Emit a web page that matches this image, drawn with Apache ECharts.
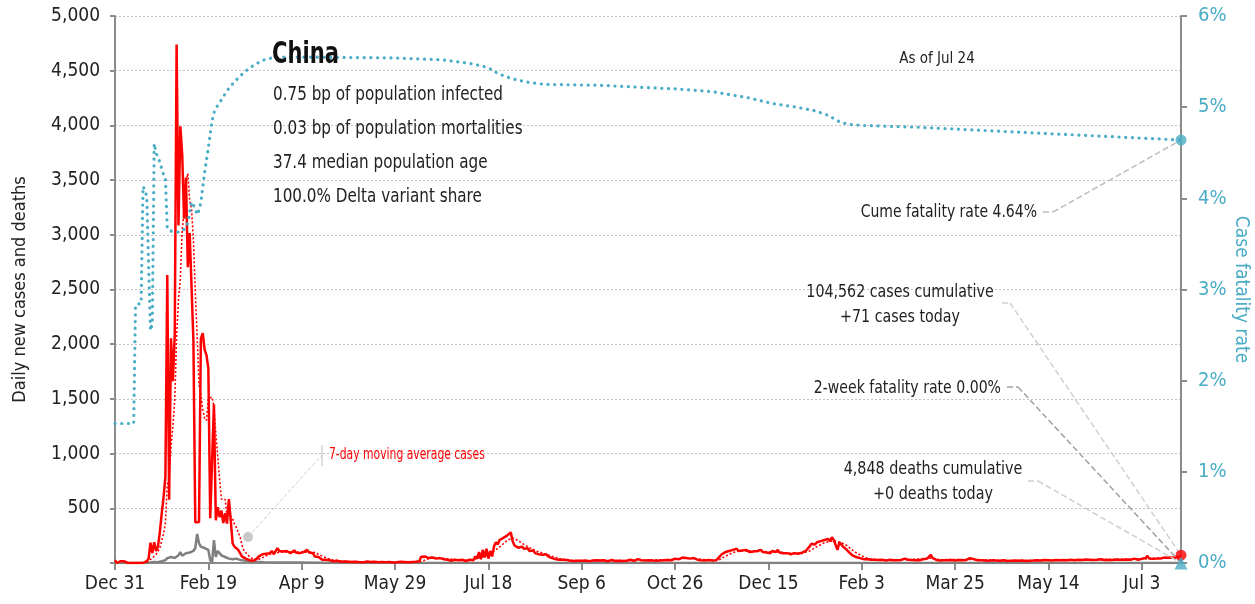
<!DOCTYPE html>
<html><head><meta charset="utf-8">
<script src="https://cdn.jsdelivr.net/npm/echarts@6/dist/echarts.min.js"></script>
<style>html,body{margin:0;padding:0;background:#fff}#c{width:1255px;height:604px}</style>
</head><body><div id="c"></div>
<script>
// ---------- DATA ----------
const START_DATE = [2019, 11, 31]; // Dec 31, 2019 (UTC y, m0, d)
const COUNTRY = 'China';
const STATS = ['0.75 bp of population infected', '0.03 bp of population mortalities', '37.4 median population age', '100.0% Delta variant share'];
const AS_OF = 'As of Jul 24';
const TOTAL_CASES = 104562, CASES_TODAY = 71, TOTAL_DEATHS = 4848, DEATHS_TODAY = 0;
const CUME_CFR = 4.64, TWO_WEEK_CFR = 0.00;

// daily new cases, one value per day from Dec 31 2019
const cases = [
27,0,0,17,0,15,0,0,0,0,
0,1,0,0,0,0,4,17,40,186,
90,190,110,150,280,450,600,790,2632,578,
2054,1661,2089,4739,3086,3991,3733,3147,3523,2704,
3015,2525,2032,373,375,375,2050,2100,1950,1900,
1780,410,420,1450,390,510,420,480,365,455,
360,585,390,180,150,165,120,90,60,45,
40,30,25,20,20,30,40,60,75,80,
95,85,100,90,110,80,95,135,110,100,
105,95,110,100,90,105,115,95,85,90,
80,100,110,120,95,85,90,60,50,55,
40,30,25,30,20,25,20,15,18,20,
15,12,18,14,10,12,15,10,8,12,
10,8,12,6,10,14,8,10,6,12,
10,8,6,10,12,8,6,10,8,5,
10,6,8,12,7,10,8,6,12,10,
8,12,10,15,58,55,60,50,45,40,
50,35,40,30,45,55,35,25,30,45,
20,25,30,20,25,15,30,20,18,25,
30,45,25,60,40,100,35,120,50,130,
40,110,60,150,190,170,210,195,230,220,
250,240,280,200,160,150,140,135,150,130,
120,135,110,100,115,90,95,80,85,75,
70,80,60,50,45,40,35,40,30,28,
30,25,28,22,20,25,18,22,20,25,
20,18,22,25,15,20,22,18,25,20,
22,18,25,20,15,22,28,20,18,25,
20,25,18,22,20,25,30,22,20,25,
35,40,25,20,22,18,25,20,22,28,
20,25,22,30,25,20,28,35,25,30,
40,50,35,45,50,40,45,35,40,50,
45,35,30,28,25,30,22,25,28,20,
22,20,25,30,60,80,90,100,95,110,
100,120,105,130,110,100,115,105,120,110,
100,115,105,95,110,100,120,100,105,95,
100,90,110,95,100,120,95,100,90,85,
90,85,80,85,90,80,85,90,95,100,
110,130,150,175,185,170,190,180,200,185,
210,195,220,200,235,210,200,120,190,170,
150,140,120,100,85,70,60,55,50,45,
40,35,30,35,28,30,25,30,22,28,
25,30,28,22,25,30,28,25,22,25,
30,28,35,40,50,30,25,28,22,25,
28,25,30,35,28,40,55,75,45,30,
28,25,22,28,25,20,25,22,28,25,
22,25,28,30,25,22,28,35,45,50,
35,28,25,22,25,28,22,25,20,22,
25,20,22,25,20,22,25,20,18,22,
20,25,22,18,20,25,22,20,18,22,
20,25,22,28,25,20,22,25,28,22,
25,30,22,25,28,30,25,22,28,30,
25,28,30,32,25,28,30,35,28,30,
32,28,30,25,28,32,30,28,35,30,
28,32,30,35,28,30,32,28,30,35,
30,35,32,28,30,35,40,32,30,35,
38,35,45,65,40,35,38,42,40,45,
40,45,50,42,48,45,50,55,48,52,
60,71
];

// 7-day moving average of cases: [day index, value]
const casesMA = [
[17,5],[20,45],[22,80],[24,135],[26,267],[27,367],[28,716],[29,783],[30,1055],[31,1252],[32,1486],[33,2078],[34,2406],[35,2600],[36,3050],[37,3207],[38,3473],[39,3560],[40,3314],[41,3234],[42,2954],[43,2474],[44,2078],[45,1628],[46,1535],[47,1404],[48,1322],[49,1303],[50,1504],[51,1509],[52,1516],[53,1430],[54,1186],[55,980],[56,769],[57,583],[58,576],[59,581],[60,426],[61,454],[62,436],[63,402],[64,355],[65,326],[66,279],[67,240],[68,165],[69,116],[70,96],[72,59],[74,34],[76,28],[78,40],[80,58],[83,80],[86,92],[90,102],[95,100],[100,98],[104,102],[107,95],[110,70],[113,48],[116,30],[120,20],[125,14],[135,10],[150,9],[163,10],[165,20],[167,35],[170,52],[175,43],[180,36],[185,24],[190,25],[193,38],[197,58],[201,80],[204,120],[207,160],[210,205],[213,230],[216,205],[219,170],[222,140],[226,108],[230,85],[234,62],[238,40],[242,27],[250,21],[280,24],[285,27],[300,32],[304,42],[309,44],[314,34],[320,24],[324,32],[327,62],[331,95],[335,112],[345,106],[355,100],[362,88],[368,88],[372,110],[376,150],[380,185],[385,205],[389,185],[392,160],[396,105],[400,65],[404,38],[410,28],[425,30],[437,45],[442,30],[460,32],[480,21],[520,29],[550,36],[560,45],[571,52]
];

// daily new deaths: [day index, value]
const deaths = [
[0,0],[17,0],[18,3],[19,5],[20,8],[21,10],[22,17],[23,8],[24,15],[25,16],[26,24],[27,26],[28,45],[29,30],[30,55],[31,43],[32,46],[33,45],[34,70],[35,100],[36,66],[37,75],[38,90],[39,85],[40,95],[41,105],[42,110],[43,137],[44,265],[45,180],[46,150],[47,140],[48,137],[49,125],[50,120],[51,25],[52,5],[53,210],[54,55],[55,110],[56,90],[57,70],[58,60],[59,55],[60,45],[61,40],[62,45],[63,35],[64,38],[65,40],[66,30],[67,28],[68,25],[69,22],[70,18],[72,15],[75,12],[80,8],[90,5],[100,4],[110,2],[120,0],[571,0]
];

// cumulative case fatality rate, %: [day index, value]
const cfr = [
[0,1.53],[10,1.53],[11,2.83],[14,2.85],[15,4.13],[16,4.09],[17,4.02],[18,4.0],[19,2.55],[20,2.63],[21,4.6],[22,4.5],[23,4.45],[24,4.4],[25,4.33],[26,4.26],[27,4.23],[28,3.67],[29,3.65],[30,3.64],[33,3.63],[35,3.63],[37,3.66],[39,3.73],[40,3.75],[41,3.96],[42,3.95],[43,3.89],[44,3.82],[45,3.87],[46,3.96],[47,4.12],[48,4.28],[49,4.42],[50,4.55],[51,4.71],[52,4.85],[53,4.94],[55,5.02],[57,5.08],[60,5.18],[64,5.28],[68,5.36],[72,5.43],[76,5.48],[80,5.52],[86,5.55],[100,5.55],[150,5.54],[175,5.52],[190,5.48],[197,5.45],[201,5.42],[205,5.37],[210,5.33],[215,5.3],[222,5.27],[230,5.25],[260,5.24],[300,5.2],[320,5.17],[340,5.1],[352,5.04],[365,5.0],[375,4.96],[382,4.91],[388,4.84],[393,4.81],[400,4.8],[430,4.78],[470,4.74],[520,4.69],[571,4.64]
];

const LABEL_EVERY = 50;
const MONTHS = ['Jan','Feb','Mar','Apr','May','Jun','Jul','Aug','Sep','Oct','Nov','Dec'];

// ---------- BUILD ----------
const dates = [];
for (let i = 0; i < cases.length; i++) {
  const t = new Date(Date.UTC(START_DATE[0], START_DATE[1], START_DATE[2] + i));
  dates.push(t.toISOString().slice(0, 10));
}
const last = cases.length - 1;
const lastDate = dates[last];
const fmtDate = v => { const p = v.split('-'); return MONTHS[+p[1] - 1] + ' ' + (+p[2]); };
const fmtNum = n => n.toLocaleString('en-US');

const FONT = "'Liberation Sans Narrow','DejaVu Sans Condensed','Roboto',sans-serif";
const BLUE = '#4BACC6', RED = '#FF0000', GREY = '#808080', AXIS = '#8c8c8c', TXT = '#222';

const ml = (segs) => ({
  silent: true, symbol: ['none', 'none'], animation: false,
  label: { show: false }, emphasis: { disabled: true },
  data: segs
});
// annotation text helper (narrowed horizontally to match the condensed reference face)
const txt = (text, x, y, size, opts) => ({
  type: 'text', x: x, y: y, scaleX: (opts && opts.sx) || 0.86, z: 20,
  style: { text: text, x: 0, y: 0, fill: (opts && opts.fill) || TXT,
    font: ((opts && opts.weight) ? opts.weight + ' ' : '') + size + 'px ' + FONT,
    align: (opts && opts.align) || 'left', verticalAlign: 'middle' }
});

const option = {
  animation: false,
  textStyle: { fontFamily: FONT },
  grid: { left: 115, right: 74, top: 16, bottom: 41, containLabel: false, outerBoundsMode: 'none' },
  xAxis: {
    type: 'category', data: dates, boundaryGap: false,
    axisLine: { lineStyle: { color: AXIS, width: 2 } },
    axisTick: { interval: i => i % LABEL_EVERY === 0, length: 7, lineStyle: { color: AXIS, width: 2 } },
    axisLabel: { interval: i => i % LABEL_EVERY === 0, formatter: fmtDate, color: TXT, fontSize: 19, fontFamily: FONT, margin: 12 },
    splitLine: { show: false }
  },
  yAxis: [{
    type: 'value', min: 0, max: 5000, interval: 500, position: 'left',
    name: 'Daily new cases and deaths', nameLocation: 'middle', nameGap: 86,
    nameTextStyle: { color: TXT, fontSize: 18, fontFamily: FONT },
    axisLine: { show: true, lineStyle: { color: AXIS, width: 2 } },
    axisTick: { show: true, length: 5, lineStyle: { color: AXIS, width: 2 } },
    axisLabel: { formatter: v => v === 0 ? '' : fmtNum(v), color: TXT, fontSize: 19, fontFamily: FONT, margin: 15 },
    splitLine: { show: true, lineStyle: { type: [2, 2], color: '#c2c2c2', width: 1 } }
  }, {
    type: 'value', min: 0, max: 6, interval: 1, position: 'right',
    name: 'Case fatality rate', nameLocation: 'middle', nameGap: 50, nameRotate: -90, nameMoveOverlap: false,
    nameTextStyle: { color: BLUE, fontSize: 19, fontFamily: FONT },
    axisLine: { show: true, lineStyle: { color: AXIS, width: 2 } },
    axisTick: { show: true, length: 6, lineStyle: { color: AXIS, width: 2 } },
    axisLabel: { formatter: '{value}%', color: BLUE, fontSize: 20, fontFamily: FONT, margin: 17 },
    splitLine: { show: false }
  }],
  series: [
    { name: 'Deaths', type: 'line', data: deaths, yAxisIndex: 0, showSymbol: false, z: 2,
      lineStyle: { color: GREY, width: 2.5 }, itemStyle: { color: GREY },
      markLine: ml([
        [{ x: 1028, y: 481, lineStyle: { color: '#cfcfcf', width: 1.5 } }, { x: 1038, y: 481 }],
        [{ x: 1038, y: 481, lineStyle: { color: '#cfcfcf', width: 1.5 } }, { coord: [lastDate, DEATHS_TODAY] }]
      ]) },
    { name: '7-day MA', type: 'line', data: casesMA, yAxisIndex: 0, showSymbol: false, z: 3,
      lineStyle: { color: RED, width: 1.6, type: [2, 2] }, itemStyle: { color: RED } },
    { name: 'Cases', type: 'line', data: cases, yAxisIndex: 0, showSymbol: false, z: 4,
      lineStyle: { color: RED, width: 2.5 }, itemStyle: { color: RED },
      markLine: ml([
        [{ x: 1002, y: 303, lineStyle: { color: '#d0d0d0', width: 1.5 } }, { x: 1010, y: 303 }],
        [{ x: 1010, y: 303, lineStyle: { color: '#d0d0d0', width: 1.5 } }, { coord: [lastDate, cases[last]] }],
        [{ x: 248, y: 537, lineStyle: { color: '#cfcfcf', width: 1 } }, { x: 322, y: 455 }]
      ]) },
    { name: 'CFR', type: 'line', data: cfr, yAxisIndex: 1, showSymbol: false, z: 5,
      lineStyle: { color: BLUE, width: 3.2, type: [0.1, 6.6], cap: 'round' }, itemStyle: { color: BLUE },
      markLine: ml([
        [{ x: 1043, y: 212, lineStyle: { color: '#bdbdbd', width: 1.5 } }, { x: 1053, y: 212 }],
        [{ x: 1053, y: 212, lineStyle: { color: '#bdbdbd', width: 1.5 } }, { coord: [lastDate, CUME_CFR] }],
        [{ x: 1007, y: 387, lineStyle: { color: '#a0a0a0', width: 1.5 } }, { x: 1018, y: 387 }],
        [{ x: 1018, y: 387, lineStyle: { color: '#a0a0a0', width: 1.5 } }, { coord: [lastDate, TWO_WEEK_CFR] }]
      ]) },
    { type: 'scatter', yAxisIndex: 0, data: [[last, cases[last]]], symbolSize: 11, clip: false, z: 8,
      itemStyle: { color: RED } },
    { type: 'scatter', yAxisIndex: 1, data: [[last, TWO_WEEK_CFR]], symbol: 'triangle', symbolSize: 13, clip: false, z: 9,
      itemStyle: { color: BLUE } },
    { type: 'scatter', yAxisIndex: 1, data: [[last, CUME_CFR]], symbolSize: 11, clip: false, z: 9,
      itemStyle: { color: BLUE } }
  ],
  graphic: [
    { type: 'circle', shape: { cx: 248, cy: 537, r: 5 }, style: { fill: '#c8c8c8' }, z: 20 },
    { type: 'line', shape: { x1: 322, y1: 445, x2: 322, y2: 466 }, style: { stroke: '#bdbdbd', lineWidth: 1 }, z: 20 },
    txt('7-day moving average cases', 329, 455, 16, { fill: RED, sx: 0.75 }),
    txt(COUNTRY, 272, 55, 30, { weight: 'bold', sx: 0.78, fill: '#111' }),
    txt(STATS[0], 273, 95, 20, { sx: 0.845 }),
    txt(STATS[1], 273, 129, 20, { sx: 0.845 }),
    txt(STATS[2], 273, 163, 20, { sx: 0.845 }),
    txt(STATS[3], 273, 197, 20, { sx: 0.845 }),
    txt(AS_OF, 937, 59, 15, { align: 'center', sx: 1 }),
    txt('Cume fatality rate ' + CUME_CFR.toFixed(2) + '%', 1037, 212, 18, { align: 'right', sx: 0.865 }),
    txt(fmtNum(TOTAL_CASES) + ' cases cumulative', 900, 292, 18, { align: 'center', sx: 0.88 }),
    txt('+' + CASES_TODAY + ' cases today', 900, 317, 18, { align: 'center', sx: 0.88 }),
    txt('2-week fatality rate ' + TWO_WEEK_CFR.toFixed(2) + '%', 1001, 388, 18, { align: 'right', sx: 0.87 }),
    txt(fmtNum(TOTAL_DEATHS) + ' deaths cumulative', 933, 469, 18, { align: 'center', sx: 0.885 }),
    txt('+' + DEATHS_TODAY + ' deaths today', 933, 494, 18, { align: 'center', sx: 0.885 })
  ]
};
const chart = echarts.init(document.getElementById('c'), null, { renderer: 'canvas' });
chart.setOption(option);
</script></body></html>
